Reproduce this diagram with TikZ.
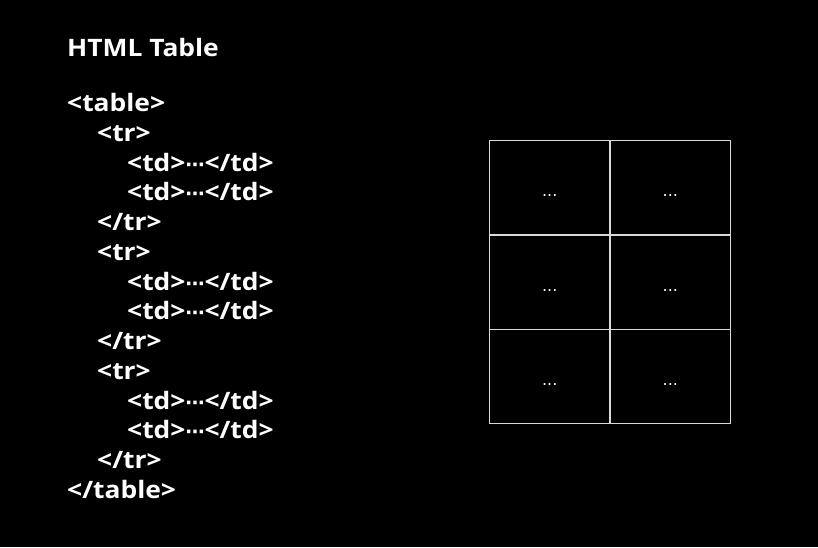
\documentclass[tikz,border=0pt]{standalone}
\usepackage{fontspec}
\setmainfont{Open Sans}[FakeStretch=1.1]
\newfontfamily\dejafont{DejaVu Sans}
\newcommand{\mydots}{{\dejafont\bfseries\fontsize{19}{20}\selectfont ⋯}}
\begin{document}
\begin{tikzpicture}[x=1pt,y=-1pt,
  code/.style={anchor=base west,inner sep=0pt,text=white,font=\bfseries\fontsize{24}{28}\selectfont},
  cell/.style={draw=white!85!black,line width=1.2pt,minimum width=120.6pt,minimum height=94.4pt,inner sep=0pt,anchor=north west,text=white,font=\dejafont\fontsize{16}{18}\selectfont}]
\fill[black] (0,0) rectangle (818,547);
\useasboundingbox (0,0) rectangle (818,547);
\node[code] (title) at (67,56) {HTML Table};
\def\ls{29.75}
\def\by{111.5}
\node[code] (l0) at (67,\by+0*\ls) {<table>};
\node[code] (l1) at (97,\by+1*\ls) {<tr>};
\node[code] (l2) at (127,\by+2*\ls) {<td>\mydots</td>};
\node[code] (l3) at (127,\by+3*\ls) {<td>\mydots</td>};
\node[code] (l4) at (97,\by+4*\ls) {</tr>};
\node[code] (l5) at (97,\by+5*\ls) {<tr>};
\node[code] (l6) at (127,\by+6*\ls) {<td>\mydots</td>};
\node[code] (l7) at (127,\by+7*\ls) {<td>\mydots</td>};
\node[code] (l8) at (97,\by+8*\ls) {</tr>};
\node[code] (l9) at (97,\by+9*\ls) {<tr>};
\node[code] (l10) at (127,\by+10*\ls) {<td>\mydots</td>};
\node[code] (l11) at (127,\by+11*\ls) {<td>\mydots</td>};
\node[code] (l12) at (97,\by+12*\ls) {</tr>};
\node[code] (l13) at (67,\by+13*\ls) {</table>};
\foreach \r in {0,1,2}{
  \foreach \c in {0,1}{
    \node[cell] (c\r\c) at (488.8+\c*120.6,140+\r*94.4) {\raisebox{-18pt}{...}};
  }
}
\end{tikzpicture}
\end{document}
